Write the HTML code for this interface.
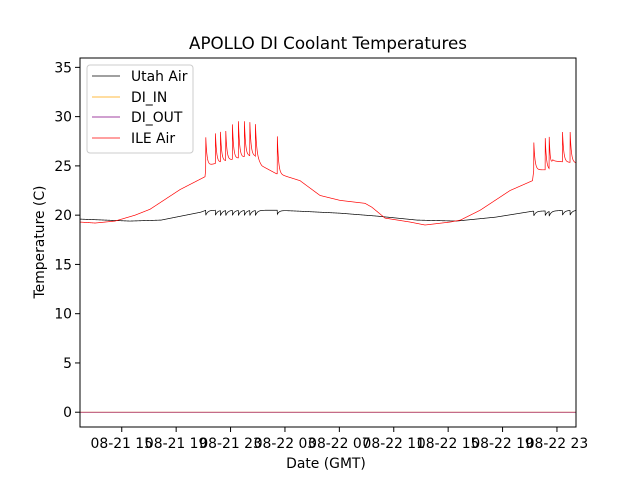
<!DOCTYPE html>
<html><head><meta charset="utf-8"><style>
body{margin:0;background:#fff;}
svg text{font-family:"DejaVu Sans","Liberation Sans",sans-serif;}
</style></head><body>
<svg id="chart" width="640" height="480" viewBox="0 0 640 480" xmlns="http://www.w3.org/2000/svg">
<rect width="640" height="480" fill="#fff"/>
<text x="328" y="49" font-size="16.7" text-anchor="middle">APOLLO DI Coolant Temperatures</text>
<g id="plot"></g>
<g id="axes"></g>
<rect x="80" y="58" width="496" height="369" fill="none" stroke="#000" stroke-width="1"/>
<text x="326" y="468" font-size="13.9" text-anchor="middle">Date (GMT)</text>
<text transform="translate(44,242) rotate(-90)" font-size="13.9" text-anchor="middle">Temperature (C)</text>
<g>
<rect x="87" y="65" width="106" height="88" rx="3" fill="#fff" fill-opacity="0.8" stroke="#ccc"/>
<line x1="92" y1="76" x2="120" y2="76" stroke="#000" stroke-width="0.7"/>
<text x="131" y="81" font-size="13.9">Utah Air</text>
<line x1="92" y1="97" x2="120" y2="97" stroke="#ffa500" stroke-width="0.7"/>
<text x="131" y="102" font-size="13.9">DI_IN</text>
<line x1="92" y1="117" x2="120" y2="117" stroke="#800080" stroke-width="0.7"/>
<text x="131" y="122" font-size="13.9">DI_OUT</text>
<line x1="92" y1="138" x2="120" y2="138" stroke="#ff0000" stroke-width="0.7"/>
<text x="131" y="143" font-size="13.9">ILE Air</text>
</g>
</svg>
<script>
// hours since 08-21 00:00 GMT
const xTickHours = [15,19,23,27,31,35,39,43,47];
const xTickLabels = ["08-21 15","08-21 19","08-21 23","08-22 03","08-22 07","08-22 11","08-22 15","08-22 19","08-22 23"];
const yTicks = [0,5,10,15,20,25,30,35];
const ileBaseHours = [11.93,13.04,14.51,15.98,17.08,19.29,21.12,21.2,22.6,24.3,24.8,25.3,26.38,26.5,28.11,29.58,31.05,32.89,33.4,34.36,36.2,37.3,39.14,39.9,41.35,43.55,45.2,45.3,46.5,46.7,48.4];
const ileBaseTemps = [19.3,19.2,19.4,20.0,20.6,22.6,23.9,25.0,25.5,26.0,26.0,25.0,24.2,24.2,23.5,22.0,21.5,21.2,20.8,19.7,19.3,19.0,19.3,19.5,20.5,22.5,23.5,24.6,24.6,25.5,25.3];
const spikeHours = [21.18,21.89,22.26,22.65,23.14,23.58,24.02,24.42,24.83,26.44,45.29,46.13,46.42,47.4,47.96];
const ileSpikePeaks = [27.9,28.3,28.4,28.5,29.2,29.5,29.5,29.4,29.2,28.0,27.7,28.2,28.2,28.8,28.8];
const utahBaseHours = [11.93,15.6,17.9,20.8,21.2,26.4,28.11,31.05,33.8,36.7,39.6,42.5,45.2,48.4];
const utahBaseTemps = [19.6,19.4,19.5,20.3,20.5,20.5,20.4,20.2,19.9,19.5,19.4,19.8,20.4,20.5];
const utahDips = [-0.5,-0.5,-0.5,-0.5,-0.5,-0.5,-0.5,-0.5,-0.5,-0.4,-0.5,-0.5,-0.5,-0.5,-0.5];
const diInTemps = [0,0];
const diOutTemps = [0,0];

const X0=80,X1=576,Y0=58,Y1=427;
const H_MIN=11.93,H_MAX=48.4,T_MIN=-1.5,T_MAX=35.95;
const xs=h=>X0+(h-H_MIN)/(H_MAX-H_MIN)*(X1-X0);
const ys=t=>Y1-(t-T_MIN)/(T_MAX-T_MIN)*(Y1-Y0);
const NS="http://www.w3.org/2000/svg";
const plot=document.getElementById('plot'), axes=document.getElementById('axes');
function interp(hs,ts,h){ if(h<=hs[0])return ts[0]; for(let i=1;i<hs.length;i++){ if(h<=hs[i]){const f=(h-hs[i-1])/(hs[i]-hs[i-1]);return ts[i-1]+f*(ts[i]-ts[i-1]);}} return ts[ts.length-1];}
function series(hs,ts,amps,absolute,tau){
  const pts=[];
  for(let h=H_MIN;h<=H_MAX+1e-9;h+=0.01){
    const b=interp(hs,ts,h); let v=b;
    for(let i=0;i<spikeHours.length;i++){ const d=h-spikeHours[i]; if(d>=0&&d<tau*8){ const a=absolute?(amps[i]-b):amps[i]; v+=a*Math.exp(-d/tau);} }
    pts.push(xs(h).toFixed(2)+','+ys(v).toFixed(2));
  }
  return pts.join(' ');
}
function addLine(points,color,name){
  const p=document.createElementNS(NS,'polyline');
  p.setAttribute('points',points);p.setAttribute('fill','none');p.setAttribute('stroke',color);p.setAttribute('stroke-width','0.7');
  
  
  plot.appendChild(p);
}
addLine(series(utahBaseHours,utahBaseTemps,utahDips,false,0.15),'#000','utah-air-line');
addLine(xs(H_MIN)+','+ys(diInTemps[0])+' '+xs(H_MAX)+','+ys(diInTemps[1]),'#ffa500','di-in-line');
addLine(xs(H_MIN)+','+ys(diOutTemps[0])+' '+xs(H_MAX)+','+ys(diOutTemps[1]),'#a0206a','di-out-line');
addLine(series(ileBaseHours,ileBaseTemps,ileSpikePeaks,true,0.09),'#ff0000','ile-air-line');

xTickHours.forEach((h,i)=>{
  const x=xs(h);
  const l=document.createElementNS(NS,'line');
  l.setAttribute('x1',x);l.setAttribute('x2',x);l.setAttribute('y1',Y1);l.setAttribute('y2',Y1+5);l.setAttribute('stroke','#000');
  
  
  axes.appendChild(l);
  const t=document.createElementNS(NS,'text');
  t.setAttribute('x',x);t.setAttribute('y',Y1+21);t.setAttribute('font-size','13.9');t.setAttribute('text-anchor','middle');
  t.textContent=xTickLabels[i];
  
  
  axes.appendChild(t);
});
yTicks.forEach(v=>{
  const y=ys(v);
  const l=document.createElementNS(NS,'line');
  l.setAttribute('x1',X0-5);l.setAttribute('x2',X0);l.setAttribute('y1',y);l.setAttribute('y2',y);l.setAttribute('stroke','#000');
  
  
  axes.appendChild(l);
  const t=document.createElementNS(NS,'text');
  t.setAttribute('x',X0-8);t.setAttribute('y',y+5);t.setAttribute('font-size','13.9');t.setAttribute('text-anchor','end');
  t.textContent=v;
  
  
  axes.appendChild(t);
});
</script>
</body></html>
